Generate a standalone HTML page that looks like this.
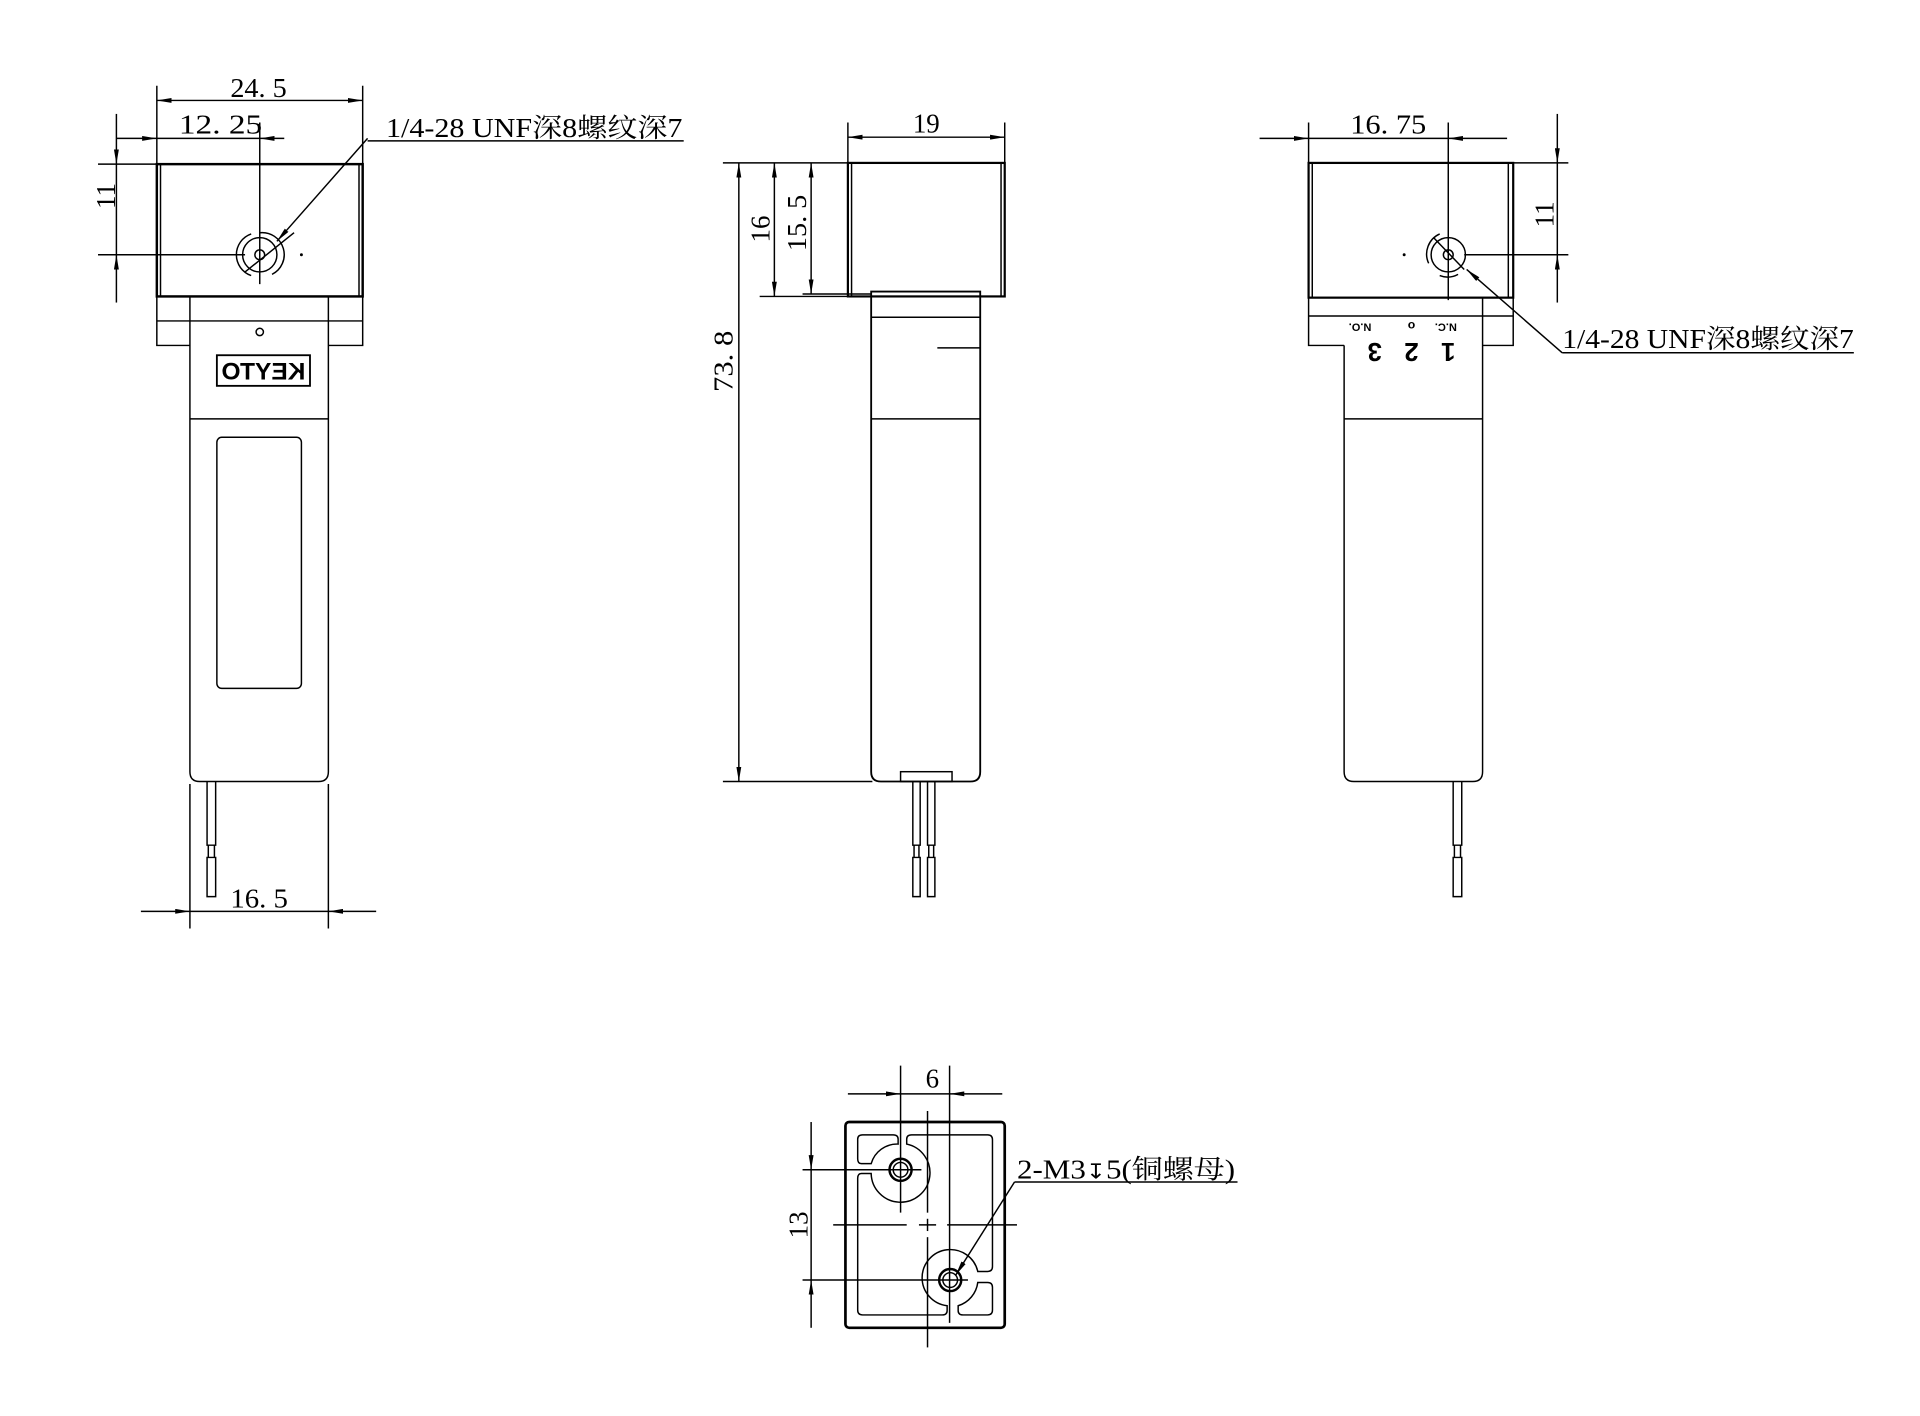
<!DOCTYPE html>
<html><head><meta charset="utf-8"><style>
html,body{margin:0;padding:0;background:#fff;}
svg{display:block;}
text{font-family:"Liberation Serif","Noto Serif CJK SC",serif;fill:#000;}
</style></head><body>
<svg width="1920" height="1416" viewBox="0 0 1567 1156" preserveAspectRatio="none" xmlns="http://www.w3.org/2000/svg">
<defs>
<marker id="a" viewBox="0 0 12 4" refX="12" refY="2" markerWidth="12" markerHeight="4" markerUnits="userSpaceOnUse" orient="auto-start-reverse"><path d="M0,0L12,2L0,4z" fill="#000"/></marker>
</defs>
<g fill="none" stroke="#000" stroke-width="1.2">

<!-- ============ LEFT VIEW ============ -->
<line x1="128" y1="70" x2="128" y2="134"/>
<line x1="296" y1="70" x2="296" y2="134"/>
<line x1="128" y1="82" x2="296" y2="82" marker-start="url(#a)" marker-end="url(#a)"/>
<line x1="95" y1="113" x2="128" y2="113" marker-end="url(#a)"/>
<line x1="232" y1="113" x2="212" y2="113" marker-end="url(#a)"/>
<line x1="128" y1="113" x2="212" y2="113"/>
<line x1="212" y1="100" x2="212" y2="232"/>
<line x1="95" y1="93" x2="95" y2="134" marker-end="url(#a)"/>
<line x1="95" y1="247" x2="95" y2="208" marker-end="url(#a)"/>
<line x1="95" y1="134" x2="95" y2="208"/>
<line x1="80" y1="134" x2="128" y2="134"/>
<line x1="80" y1="208" x2="200" y2="208"/>
<rect x="128" y="134" width="168" height="108" stroke-width="2"/>
<line x1="131" y1="134" x2="131" y2="242"/>
<line x1="293" y1="134" x2="293" y2="242"/>
<circle cx="212" cy="208" r="4"/>
<circle cx="212" cy="208" r="14"/>
<path d="M205 225 A18 18 0 0 1 205 191"/>
<path d="M212 190 A18 18 0 0 1 222 224"/>
<line x1="200" y1="222" x2="240" y2="190"/>
<circle cx="246" cy="208" r="0.6" fill="#000"/>
<line x1="300" y1="113" x2="226" y2="197" marker-end="url(#a)"/>
<line x1="300" y1="115" x2="558" y2="115"/>
<path d="M128 242 V282 H155 M296 242 V282 H268 M128 262 H296"/>
<path d="M155 242 V630 Q155 638 163 638 H260 Q268 638 268 630 V242"/>
<line x1="155" y1="342" x2="268" y2="342"/>
<circle cx="212" cy="271" r="3"/>
<rect x="177" y="290" width="76" height="25" stroke-width="1.5"/>
<rect x="177" y="357" width="69" height="205" rx="4"/>
<path d="M169 638 V690 H176 V638 M170 690 V700 M175 690 V700 M169 700 H176 V732 H169 Z"/>
<line x1="155" y1="640" x2="155" y2="758"/>
<line x1="268" y1="640" x2="268" y2="758"/>
<line x1="115" y1="744" x2="155" y2="744" marker-end="url(#a)"/>
<line x1="307" y1="744" x2="268" y2="744" marker-end="url(#a)"/>
<line x1="155" y1="744" x2="268" y2="744"/>

<!-- ============ MIDDLE VIEW ============ -->
<line x1="692" y1="100" x2="692" y2="133"/>
<line x1="820" y1="100" x2="820" y2="133"/>
<line x1="692" y1="112" x2="820" y2="112" marker-start="url(#a)" marker-end="url(#a)"/>
<rect x="692" y="133" width="128" height="109" stroke-width="1.8"/>
<line x1="695" y1="133" x2="695" y2="242"/>
<line x1="817" y1="133" x2="817" y2="242"/>
<line x1="590" y1="133" x2="692" y2="133"/>
<line x1="620" y1="242" x2="711" y2="242"/>
<line x1="655" y1="240" x2="711" y2="240"/>
<line x1="590" y1="638" x2="712" y2="638"/>
<line x1="603" y1="133" x2="603" y2="638" marker-start="url(#a)" marker-end="url(#a)"/>
<line x1="632" y1="133" x2="632" y2="242" marker-start="url(#a)" marker-end="url(#a)"/>
<line x1="662" y1="133" x2="662" y2="240" marker-start="url(#a)" marker-end="url(#a)"/>
<path d="M711 238 H800 V630 Q800 638 792 638 H719 Q711 638 711 630 Z" stroke-width="1.5"/>
<line x1="711" y1="259" x2="800" y2="259"/>
<line x1="765" y1="284" x2="800" y2="284"/>
<line x1="711" y1="342" x2="800" y2="342"/>
<rect x="735" y="630" width="42" height="8"/>
<path d="M745 638 V690 H751 V638 M757 638 V690 H763 V638 M746 690 V700 M750 690 V700 M758 690 V700 M762 690 V700 M745 700 H751 V732 H745 Z M757 700 H763 V732 H757 Z"/>

<!-- ============ RIGHT VIEW ============ -->
<line x1="1068" y1="100" x2="1068" y2="133"/>
<line x1="1182" y1="100" x2="1182" y2="245"/>
<line x1="1028" y1="113" x2="1068" y2="113" marker-end="url(#a)"/>
<line x1="1230" y1="113" x2="1182" y2="113" marker-end="url(#a)"/>
<line x1="1068" y1="113" x2="1182" y2="113"/>
<rect x="1068" y="133" width="167" height="110" stroke-width="1.8"/>
<line x1="1071" y1="133" x2="1071" y2="243"/>
<line x1="1231" y1="133" x2="1231" y2="243"/>
<circle cx="1182" cy="208" r="4"/>
<circle cx="1182" cy="208" r="14"/>
<path d="M1166 215 A18 18 0 0 1 1175 191"/>
<path d="M1175 225 A18 18 0 0 0 1190 224"/>
<line x1="1170" y1="194" x2="1195" y2="220"/>
<circle cx="1146" cy="208" r="0.6" fill="#000"/>
<line x1="1235" y1="133" x2="1280" y2="133"/>
<line x1="1195" y1="208" x2="1280" y2="208"/>
<line x1="1271" y1="93" x2="1271" y2="133" marker-end="url(#a)"/>
<line x1="1271" y1="247" x2="1271" y2="208" marker-end="url(#a)"/>
<line x1="1271" y1="133" x2="1271" y2="208"/>
<line x1="1275" y1="288" x2="1197" y2="220" marker-end="url(#a)"/>
<line x1="1275" y1="288" x2="1513" y2="288"/>
<path d="M1068 243 V282 H1097 M1235 243 V282 H1210 M1068 258 H1235"/>
<path d="M1097 282 V630 Q1097 638 1105 638 H1202 Q1210 638 1210 630 V243"/>
<line x1="1097" y1="342" x2="1210" y2="342"/>
<path d="M1186 638 V690 H1193 V638 M1187 690 V700 M1192 690 V700 M1186 700 H1193 V732 H1186 Z"/>

<!-- ============ BOTTOM VIEW ============ -->
<line x1="735" y1="870" x2="735" y2="990"/>
<line x1="775" y1="870" x2="775" y2="1080"/>
<line x1="692" y1="893" x2="735" y2="893" marker-end="url(#a)"/>
<line x1="818" y1="893" x2="775" y2="893" marker-end="url(#a)"/>
<line x1="735" y1="893" x2="775" y2="893"/>
<line x1="662" y1="916" x2="662" y2="955" marker-end="url(#a)"/>
<line x1="662" y1="1084" x2="662" y2="1045" marker-end="url(#a)"/>
<line x1="662" y1="955" x2="662" y2="1045"/>
<line x1="655" y1="955" x2="752" y2="955"/>
<line x1="655" y1="1045" x2="790" y2="1045"/>
<rect x="690" y="916" width="130" height="168" rx="3" stroke-width="2.2"/>
<!-- inner contour -->
<path d="M711 950 H703 Q700 950 700 946 V930 Q700 926.5 704 926.5 H729 Q733 926.5 733 930 V934 A22 22 0 0 0 711 950 Z"/>
<path d="M740 934 V930 Q740 926.5 744 926.5 H806 Q810 926.5 810 930.5 V1034 Q810 1038 806 1038 H798 A23 23 0 1 0 773 1066 V1070 Q773 1073.5 769 1073.5 H704 Q700 1073.5 700 1069.5 V962 Q700 958 703 958 H711 A24 24 0 1 0 740 934 Z"/>
<path d="M782 1066 V1070 Q782 1073.5 786 1073.5 H806 Q810 1073.5 810 1069.5 V1051 Q810 1047 806 1047 H798 A23 23 0 0 1 782 1066 Z"/>
<circle cx="735" cy="955" r="9" stroke-width="2"/>
<circle cx="735" cy="955" r="6"/>
<circle cx="775.5" cy="1045" r="9" stroke-width="2"/>
<circle cx="775.5" cy="1045" r="6"/>
<line x1="680" y1="1000" x2="740" y2="1000"/>
<line x1="750" y1="1000" x2="764" y2="1000"/>
<line x1="773" y1="1000" x2="830" y2="1000"/>
<line x1="757" y1="907" x2="757" y2="990"/>
<line x1="757" y1="995" x2="757" y2="1005"/>
<line x1="757" y1="1010" x2="757" y2="1100"/>
<line x1="828" y1="965" x2="780" y2="1041" marker-end="url(#a)"/>
<line x1="828" y1="965" x2="1010" y2="965"/>
</g>

<g font-size="22">
<text x="188" y="79" textLength="46" lengthAdjust="spacingAndGlyphs">24. 5</text>
<text x="146" y="109" textLength="68" lengthAdjust="spacingAndGlyphs">12. 25</text>
<text x="0" y="0" text-anchor="middle" transform="translate(94,160) rotate(-90)">11</text>
<text x="315" y="112" textLength="242" lengthAdjust="spacingAndGlyphs">1/4-28 UNF深8螺纹深7</text>
<text x="188" y="741" textLength="47" lengthAdjust="spacingAndGlyphs">16. 5</text>
<text x="756" y="108" text-anchor="middle">19</text>
<text x="0" y="0" transform="translate(598,320) rotate(-90)" textLength="50" lengthAdjust="spacingAndGlyphs">73. 8</text>
<text x="0" y="0" text-anchor="middle" transform="translate(628,187) rotate(-90)">16</text>
<text x="0" y="0" transform="translate(658,205) rotate(-90)" textLength="46" lengthAdjust="spacingAndGlyphs">15. 5</text>
<text x="1102" y="109" textLength="62" lengthAdjust="spacingAndGlyphs">16. 75</text>
<text x="0" y="0" text-anchor="middle" transform="translate(1268,175) rotate(-90)">11</text>
<text x="1275" y="284" textLength="238" lengthAdjust="spacingAndGlyphs">1/4-28 UNF深8螺纹深7</text>
<text x="761" y="888" text-anchor="middle">6</text>
<text x="0" y="0" text-anchor="middle" transform="translate(659,1000) rotate(-90)">13</text>
<text x="830" y="962" textLength="178" lengthAdjust="spacingAndGlyphs">2-M3<tspan font-family="DejaVu Sans" font-size="17">↧</tspan>5(铜螺母)</text>
</g>
<g font-weight="bold">
<text x="0" y="0" font-size="20" text-anchor="middle" transform="translate(215,310) scale(-1,1)" style="font-family:'Liberation Sans',sans-serif">KEYTO</text>
<text x="0" y="0" font-size="21" text-anchor="middle" transform="translate(1182,280) rotate(180)" style="font-family:'Liberation Sans',sans-serif">1</text>
<text x="0" y="0" font-size="21" text-anchor="middle" transform="translate(1152,280) rotate(180)" style="font-family:'Liberation Sans',sans-serif">2</text>
<text x="0" y="0" font-size="21" text-anchor="middle" transform="translate(1122,280) rotate(180)" style="font-family:'Liberation Sans',sans-serif">3</text>
<text x="0" y="0" font-size="9" text-anchor="middle" transform="translate(1180,264) rotate(180)" style="font-family:'Liberation Sans',sans-serif">N.C.</text>
<text x="0" y="0" font-size="9" text-anchor="middle" transform="translate(1110,264) rotate(180)" style="font-family:'Liberation Sans',sans-serif">N.O.</text>
<text x="0" y="0" font-size="10" text-anchor="middle" transform="translate(1152,263) rotate(180)" style="font-family:'Liberation Sans',sans-serif">o</text>
</g>
</svg>
</body></html>
